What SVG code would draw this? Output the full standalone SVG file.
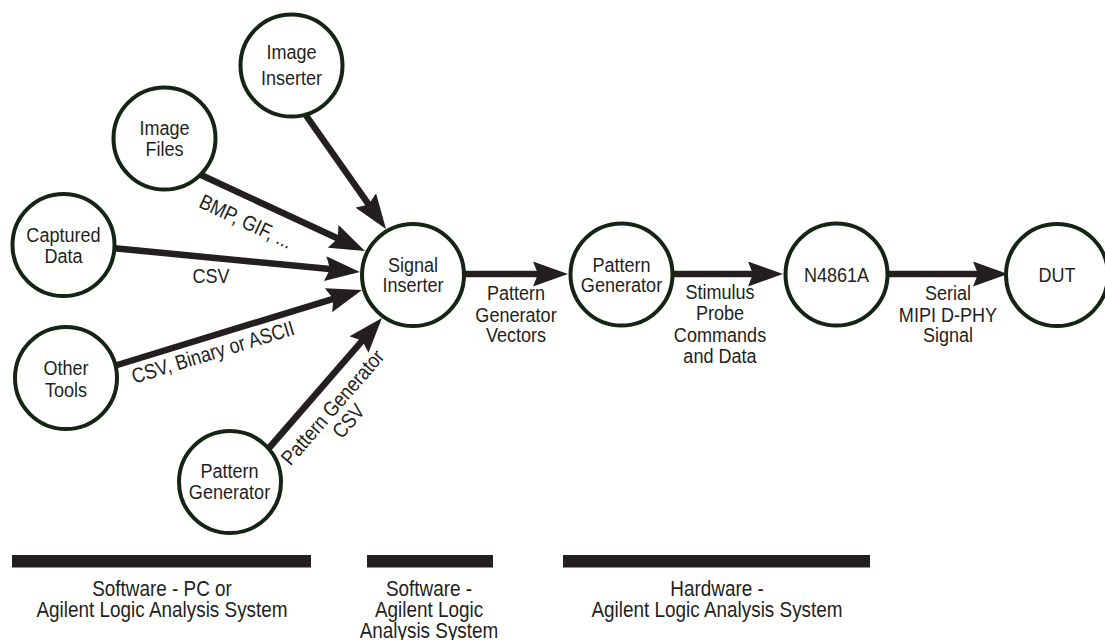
<svg xmlns="http://www.w3.org/2000/svg" width="1105" height="640" viewBox="0 0 1105 640">
<style>
text{font-family:"Liberation Sans",Arial,sans-serif;font-size:21px;fill:#231f20;text-anchor:middle}
.big{font-size:22px}
.node circle{fill:#ffffff;stroke:#152515;stroke-width:4}
.conn line{stroke:#231f20;stroke-width:6.5;marker-end:url(#ah)}
.bar{fill:#231f20}
</style>
<defs>
<marker id="ah" markerUnits="userSpaceOnUse" markerWidth="35" markerHeight="25" viewBox="0 0 35 25" refX="10" refY="12.5" orient="auto">
<path d="M0,0 L35,12.5 L0,25 L5,12.5 Z" fill="#231f20"/>
</marker>
</defs>
<rect width="1105" height="640" fill="#ffffff"/>
<g id="connectors" class="conn">
<line x1="305" y1="114" x2="371.6" y2="208.6"/>
<line x1="200" y1="174.5" x2="342.3" y2="240.5"/>
<line x1="112" y1="248" x2="335.1" y2="269.6"/>
<line x1="114" y1="366" x2="338.1" y2="297.3"/>
<line x1="266" y1="451.5" x2="365.6" y2="336.9"/>
<line x1="462" y1="274" x2="543" y2="274"/>
<line x1="670" y1="274" x2="758" y2="274"/>
<line x1="885" y1="274" x2="983" y2="274"/>
</g>
<g id="edge-labels">
<text transform="translate(243 228) rotate(25) scale(0.86 1)">BMP, GIF, ...</text>
<text transform="translate(211 283) scale(0.86 1)">CSV</text>
<text transform="translate(215 359) rotate(-17) scale(0.86 1)">CSV, Binary or ASCII</text>
<text transform="translate(338 412) rotate(-49) scale(0.86 1)"><tspan x="0" y="0">Pattern Generator</tspan><tspan x="0" y="21">CSV</tspan></text>
<text transform="translate(516 0) scale(0.86 1)"><tspan x="0" y="300">Pattern</tspan><tspan x="0" y="322">Generator</tspan><tspan x="0" y="342">Vectors</tspan></text>
<text transform="translate(720 0) scale(0.86 1)"><tspan x="0" y="299">Stimulus</tspan><tspan x="0" y="320">Probe</tspan><tspan x="0" y="342">Commands</tspan><tspan x="0" y="363">and Data</tspan></text>
<text transform="translate(948 0) scale(0.86 1)"><tspan x="0" y="300">Serial</tspan><tspan x="0" y="322">MIPI D-PHY</tspan><tspan x="0" y="342">Signal</tspan></text>
</g>
<g id="node-image-inserter" class="node">
<circle cx="291.5" cy="65.5" r="51"/>
<text transform="translate(291.5 0) scale(0.86 1)"><tspan x="0" y="59">Image</tspan><tspan x="0" y="85">Inserter</tspan></text>
</g>
<g id="node-image-files" class="node">
<circle cx="164.5" cy="138.5" r="51"/>
<text transform="translate(164.5 0) scale(0.86 1)"><tspan x="0" y="135">Image</tspan><tspan x="0" y="156">Files</tspan></text>
</g>
<g id="node-captured-data" class="node">
<circle cx="63.5" cy="245" r="51"/>
<text transform="translate(63.5 0) scale(0.86 1)"><tspan x="0" y="242">Captured</tspan><tspan x="0" y="263">Data</tspan></text>
</g>
<g id="node-other-tools" class="node">
<circle cx="66" cy="378" r="51"/>
<text transform="translate(66 0) scale(0.86 1)"><tspan x="0" y="375">Other</tspan><tspan x="0" y="397">Tools</tspan></text>
</g>
<g id="node-pattern-generator-sw" class="node">
<circle cx="230" cy="482" r="51"/>
<text transform="translate(229.5 0) scale(0.86 1)"><tspan x="0" y="478">Pattern</tspan><tspan x="0" y="499">Generator</tspan></text>
</g>
<g id="node-signal-inserter" class="node">
<circle cx="413" cy="275" r="51"/>
<text transform="translate(413 0) scale(0.86 1)"><tspan x="0" y="272">Signal</tspan><tspan x="0" y="292">Inserter</tspan></text>
</g>
<g id="node-pattern-generator-hw" class="node">
<circle cx="621.5" cy="274.5" r="51"/>
<text transform="translate(621.5 0) scale(0.86 1)"><tspan x="0" y="272">Pattern</tspan><tspan x="0" y="292">Generator</tspan></text>
</g>
<g id="node-n4861a" class="node">
<circle cx="836.5" cy="274.5" r="51"/>
<text transform="translate(836.5 0) scale(0.86 1)" y="282">N4861A</text>
</g>
<g id="node-dut" class="node">
<circle cx="1057" cy="275" r="51"/>
<text transform="translate(1057 0) scale(0.86 1)" y="282">DUT</text>
</g>
<g id="legend">
<rect class="bar" x="12" y="555" width="299" height="12.5"/>
<rect class="bar" x="367" y="555" width="126" height="12.5"/>
<rect class="bar" x="563" y="555" width="307" height="12.5"/>
<text class="big" transform="translate(162 0) scale(0.86 1)"><tspan x="0" y="596">Software - PC or</tspan><tspan x="0" y="617">Agilent Logic Analysis System</tspan></text>
<text class="big" transform="translate(429 0) scale(0.86 1)"><tspan x="0" y="596">Software -</tspan><tspan x="0" y="617">Agilent Logic</tspan><tspan x="0" y="638">Analysis System</tspan></text>
<text class="big" transform="translate(717 0) scale(0.86 1)"><tspan x="0" y="596">Hardware -</tspan><tspan x="0" y="617">Agilent Logic Analysis System</tspan></text>
</g>
</svg>
